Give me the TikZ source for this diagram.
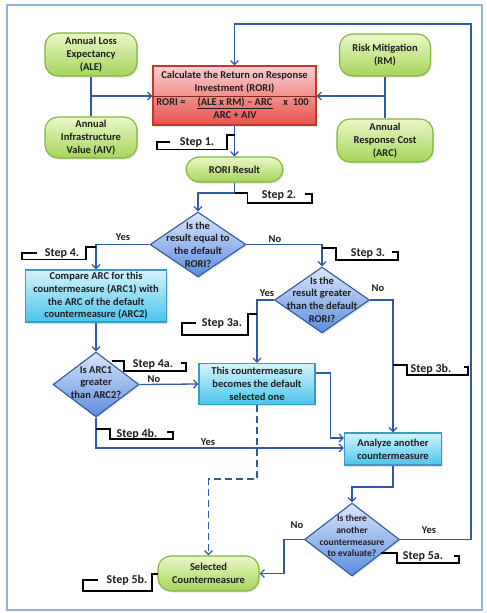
\documentclass[tikz,border=0pt]{standalone}
\usepackage{fontspec}
\setmainfont{Carlito}
\usetikzlibrary{shapes.geometric,arrows.meta,shadows}
\definecolor{linec}{HTML}{2F5AA6}
\definecolor{framec}{HTML}{8DB3E2}
\definecolor{greenb}{HTML}{82B43C}
\definecolor{greentop}{HTML}{EAF7C8}
\definecolor{greenbot}{HTML}{A4D65A}
\definecolor{redb}{HTML}{C0392B}
\definecolor{redtop}{HTML}{FAD0D0}
\definecolor{redbot}{HTML}{E8504C}
\definecolor{cyanb}{HTML}{3A9CC0}
\definecolor{cyantop}{HTML}{D6F4FC}
\definecolor{cyanbot}{HTML}{48C4EA}
\definecolor{diab}{HTML}{2E5C9E}
\definecolor{diatop}{HTML}{DCE6FA}
\definecolor{diabot}{HTML}{5A8CE0}
\definecolor{txt}{HTML}{1E1E1E}
\begin{document}
\begin{tikzpicture}[x=1pt,y=-1pt,
  every node/.style={text=txt, font=\bfseries\fontsize{10.5}{12.7}\selectfont},
  shad/.style={drop shadow={opacity=0.22, shadow xshift=1.2pt, shadow yshift=-1.5pt}},
  gbox/.style={draw=greenb, line width=1.1pt, rounded corners=13pt, top color=greentop, bottom color=greenbot, align=center, inner sep=1pt, shad},
  cbox/.style={draw=cyanb, line width=1.1pt, top color=cyantop, bottom color=cyanbot, align=center, inner sep=0pt, shad},
  dia/.style={diamond, draw=diab, line width=1.1pt, top color=diatop, bottom color=diabot, inner sep=0pt, shad},
  dtext/.style={align=center, inner sep=0pt},
  lbl/.style={inner sep=0pt},
  conn/.style={draw=linec, line width=1.3pt},
  arr/.style={conn, -{Straight Barb[length=4pt,width=8pt]}},
  callout/.style={draw=black, line width=1.1pt},
  steptext/.style={font=\bfseries\fontsize{12}{14}\selectfont, inner sep=0pt}
]
\useasboundingbox (0,0) rectangle (487,613);
\draw[framec, line width=1.5pt, fill=white] (7,5) rectangle (482,610);

% nodes
\node[gbox, minimum width=92pt, minimum height=43pt] (ale) at (91,54.5) {Annual Loss\\Expectancy\\(ALE)};
\node[gbox, minimum width=92pt, minimum height=41pt] (aiv) at (91,137.5) {Annual\\Infrastructure\\Value (AIV)};
\node[gbox, minimum width=91pt, minimum height=42pt] (rm) at (385,55) {Risk Mitigation\\(RM)};
\node[gbox, minimum width=96pt, minimum height=43pt] (arc) at (385,140.5) {Annual\\Response Cost\\(ARC)};
\node[draw=redb, line width=1.1pt, top color=redtop, bottom color=redbot, minimum width=163pt, minimum height=59pt, inner sep=0pt, shad] (calc) at (234.5,95.5) {};
\draw[redb!70!black, line width=0.6pt] (calc.west |- 0,96) -- (calc.east |- 0,96);
\node[align=center, inner sep=0pt] (calct) at (234.5,82) {Calculate the Return on Response\\Investment (RORI)};
\node[lbl] (roriq) at (171,102) {RORI =};
\node[lbl] (num) at (235,102) {(ALE x RM) -- ARC};
\draw[txt, line width=0.8pt] (197,108.5) -- (273,108.5);
\node[lbl] (den) at (235,115.5) {ARC + AIV};
\node[lbl] (x100) at (296,102) {x\ \ 100};

\node[gbox, minimum width=97pt, minimum height=25pt] (res) at (234.5,169.5) {RORI Result};

\node[dia, minimum width=96pt, minimum height=65pt] (d1) at (198,244.5) {};
\node[dtext] (d1t) at (198,244.5) {Is the\\result equal to\\the default\\RORI?};

\node[cbox, minimum width=141pt, minimum height=52pt] (cmp) at (96,296) {Compare ARC for this\\countermeasure (ARC1) with\\the ARC of the default\\countermeasure (ARC2)};

\node[dia, minimum width=95pt, minimum height=66pt] (d2) at (322,300) {};
\node[dtext] (d2t) at (322,299.5) {Is the\\result greater\\than the default\\RORI?};

\node[dia, minimum width=86pt, minimum height=65pt] (d3) at (96,384.5) {};
\node[dtext] (d3t) at (96,382.5) {Is ARC1\\greater\\than ARC2?};

\node[cbox, minimum width=116pt, minimum height=41pt] (this) at (257,384) {This countermeasure\\becomes the default\\selected one};

\node[cbox, minimum width=97pt, minimum height=32pt] (ana) at (393,449) {Analyze another\\countermeasure};

\node[dia, minimum width=95pt, minimum height=73pt] (d4) at (352,539.5) {};
\node[dtext, font=\bfseries\fontsize{9.5}{11.6}\selectfont] (d4t) at (352,536) {Is there\\another\\countermeasure\\to evaluate?};

\node[gbox, minimum width=101pt, minimum height=35pt] (sel) at (208.5,573.5) {Selected\\Countermeasure};

% connectors
\draw[conn] (ale) -- (aiv);
\coordinate (jl) at (91,96);
\draw[arr] (jl) -- (jl -| calc.west);
\draw[conn] (rm) -- (arc);
\coordinate (jr) at (385,96);
\draw[arr] (jr) -- (jr -| calc.east);
\draw[arr] (calc.south) -- (res.north);
\coordinate (loop) at (471,24);
\draw[arr] (d4.east) -| (loop) -| (calc.north);
\coordinate (b2) at (234.5,193);
\draw[arr] (res.south) -- (b2) -| (d1.north);
\draw[arr] (d1.west) -| (cmp.north);
\draw[arr] (d1.east) -| (d2.north);
\draw[arr] (cmp.south) -- (d3.north);
\draw[arr] (d2.west) -| (this.north);
\draw[arr] (d2.east) -| (ana.north);
\draw[arr] (d3.east) -- (this.west);
\draw[arr] (d3.south) |- ([yshift=1pt]ana.west);
\draw[arr] ([yshift=11pt]this.east) -- ++(15,0) |- ([yshift=11pt]ana.west);
\coordinate (dsh) at (257,479);
\draw[arr, dash pattern=on 7pt off 4pt] (this.south) -- (dsh) -| (sel.north);
\coordinate (b4) at (393,487);
\draw[arr] (ana.south) -- (b4) -| (d4.north);
\coordinate (b5) at (284,539.5);
\draw[arr] (d4.west) -- (b5) |- (sel.east);

% yes/no labels
\node[lbl] (y1) at (123,237) {Yes};
\node[lbl] (n1) at (275,239) {No};
\node[lbl] (y2) at (267,293) {Yes};
\node[lbl] (n2) at (378,288) {No};
\node[lbl] (n3) at (154,379) {No};
\node[lbl] (y3) at (208,442) {Yes};
\node[lbl] (n4) at (297,525) {No};
\node[lbl] (y4) at (429,530) {Yes};

% step callouts
\node[steptext] (s1) at (197,143) {Step 1.};
\draw[callout] (170,142) -- (157,142) -- (157,149.5) -- (227,149.5) -- (227,135) -- (234.5,135);
\node[steptext] (s2) at (279,196) {Step 2.};
\draw[callout] (234.5,193) -- (247.5,193) -- (247.5,203) -- (312,203) -- (312,194) -- (305,194);
\node[steptext] (s4) at (62,254) {Step 4.};
\draw[callout] (37,253) -- (22,253) -- (22,259.5) -- (86,259.5) -- (86,247) -- (96,247);
\node[steptext] (s3) at (368,254) {Step 3.};
\draw[callout] (322,248) -- (336,248) -- (336,260) -- (398,260) -- (398,252) -- (392,252);
\node[steptext] (s3a) at (222,324) {Step 3a.};
\draw[callout] (196,323) -- (182,323) -- (182,335) -- (248,335) -- (248,314) -- (257,314);
\node[steptext] (s4a) at (153,365) {Step 4a.};
\draw[callout] (112,361) -- (124,361) -- (124,371) -- (186,371) -- (186,363) -- (181,363);
\node[steptext] (s4b) at (137,434) {Step 4b.};
\draw[callout] (96,429) -- (110,429) -- (110,439) -- (173,439) -- (173,432) -- (167,432);
\node[steptext] (s3b) at (431,369) {Step 3b.};
\draw[callout] (393,365) -- (407,365) -- (407,375) -- (468,375) -- (468,367) -- (464,367);
\node[steptext] (s5a) at (423,557) {Step 5a.};
\draw[callout] (381,553) -- (397,553) -- (397,563) -- (459,563) -- (459,556) -- (454,556);
\node[steptext] (s5b) at (127,580) {Step 5b.};
\draw[callout] (98,580) -- (83,580) -- (83,591) -- (152,591) -- (152,574) -- (158,574);
\end{tikzpicture}
\end{document}
